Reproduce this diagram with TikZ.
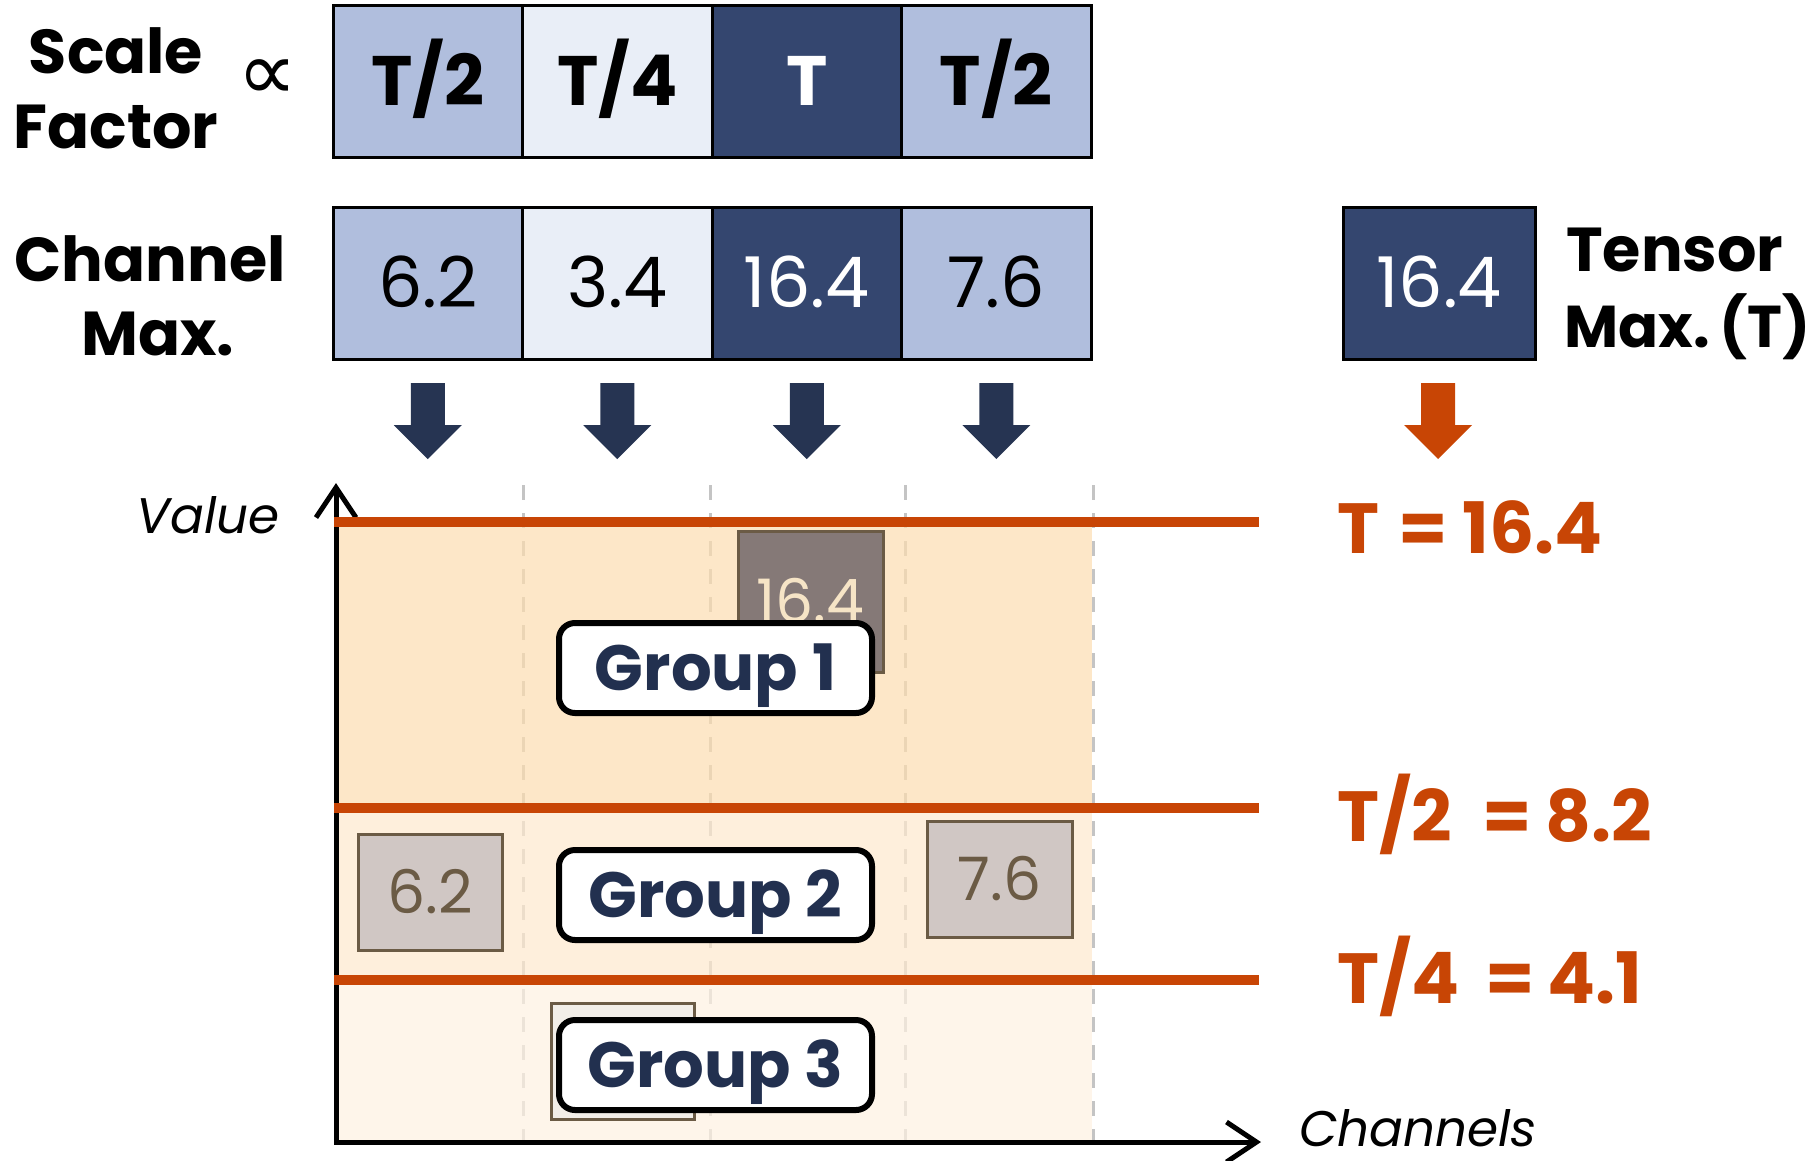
\documentclass[tikz,border=0pt]{standalone}
\usepackage{fontspec}
\setmainfont{Poppins}
\newfontfamily\symbolfont{DejaVu Sans}
\usetikzlibrary{arrows.meta}

\definecolor{cellLight}{HTML}{B0BEDD}
\definecolor{cellPale}{HTML}{E9EEF7}
\definecolor{cellDark}{HTML}{34466F}
\definecolor{arrowNavy}{HTML}{263452}
\definecolor{rust}{HTML}{C84505}
\definecolor{shadeTop}{RGB}{252,221,176}
\definecolor{shadeMid}{RGB}{254,232,205}
\definecolor{shadeLow}{RGB}{254,241,225}
\definecolor{gridGray}{HTML}{C4C4C4}
\definecolor{valEdge}{HTML}{6B5B45}
\definecolor{valDark}{HTML}{857977}
\definecolor{valMid}{HTML}{D0C7C4}
\definecolor{valPale}{HTML}{F2EEE8}
\definecolor{cream}{HTML}{F6E4C6}
\definecolor{groupInk}{HTML}{22304F}

\newcommand\fsz[1]{\fontsize{#1}{#1}\selectfont}
% block arrow pointing down, top centre at #1
\newcommand\downblock[2]{%
  \fill[#2] (#1) ++(-17,0) -- ++(34,0) -- ++(0,42) -- ++(17,0) -- ++(-34,34)
    -- ++(-34,-34) -- ++(17,0) -- cycle;}

\begin{document}
\begin{tikzpicture}[x=1pt,y=-1pt,
  cellbox/.style={draw=black, line width=3pt, minimum width=189.5pt,
    minimum height=152pt, inner sep=0pt, text height=48pt, text depth=0pt},
  factortxt/.style={font=\fsz{70}\bfseries},
  maxtxt/.style={font=\fsz{70}},
  sidelbl/.style={font=\fsz{62}\bfseries, inner sep=0pt},
  axislbl/.style={font=\fsz{50}\itshape, inner sep=0pt},
  threshlbl/.style={font=\fsz{71}\bfseries, text=rust, inner sep=0pt, anchor=base west},
  threshline/.style={draw=rust, line width=10pt},
  gridline/.style={draw=gridGray, line width=3pt, dash pattern=on 15pt off 13pt},
  valbox/.style={draw=valEdge, line width=3pt, inner sep=0pt, font=\fsz{60},
    text=valEdge, text height=42pt, text depth=0pt},
  grouplbl/.style={draw=black, fill=white, line width=6pt, rounded corners=16pt,
    minimum width=313pt, minimum height=90pt, inner sep=0pt,
    font=\fsz{64}\bfseries, text=groupInk, text height=45pt, text depth=0pt},
  axis/.style={line width=5pt, {Straight Barb[length=30pt,width=40pt]}-{Straight Barb[length=30pt,width=40pt]}}
]
\useasboundingbox (0,0) rectangle (1816,1160);

% ---- scale factor row ----
\node[cellbox, factortxt, fill=cellLight] (s1) at (427.75,81.5) {T/2};
\node[cellbox, factortxt, fill=cellPale]  (s2) at (617.25,81.5) {T/4};
\node[cellbox, factortxt, fill=cellDark, text=white] (s3) at (806.75,81.5) {T};
\node[cellbox, factortxt, fill=cellLight] (s4) at (996.25,81.5) {T/2};

% ---- channel max row ----
\node[cellbox, maxtxt, fill=cellLight] (c1) at (427.75,283) {6.2};
\node[cellbox, maxtxt, fill=cellPale]  (c2) at (617.25,283) {3.4};
\node[cellbox, maxtxt, fill=cellDark, text=white] (c3) at (806.75,283) {16.4};
\node[cellbox, maxtxt, fill=cellLight] (c4) at (996.25,283) {7.6};

% ---- tensor max ----
\node[cellbox, maxtxt, fill=cellDark, text=white, minimum width=192pt] (tm) at (1439,283.5) {16.4};

% ---- row labels ----
\node[sidelbl, anchor=base] (sf1) at (116,73) {Scale};
\node[sidelbl, anchor=base] (sf2) at (116,148) {Factor};
\node[inner sep=0pt, font=\fsz{84}\symbolfont] (prop) at (268,80) {∝};
\node[sidelbl, anchor=base] (cm1) at (150,281) {Channel};
\node[sidelbl, anchor=base] (cm2) at (158,355) {Max.};
\node[sidelbl, anchor=base west] (tl1) at (1566,271) {Tensor};
\node[sidelbl, anchor=base west, font=\fsz{59}\bfseries] (tl2) at (1564,347) {Max.\hspace{-7pt} (T)};

% ---- down arrows ----
\coordinate (a1) at (427.75,383);
\coordinate (a2) at (617.25,383);
\coordinate (a3) at (806.75,383);
\coordinate (a4) at (996.25,383);
\coordinate (a5) at (1438,383);
\downblock{a1}{arrowNavy}
\downblock{a2}{arrowNavy}
\downblock{a3}{arrowNavy}
\downblock{a4}{arrowNavy}
\downblock{a5}{rust}

% ---- channel separators ----
\foreach \gx in {523,710,905,1093}
  \draw[gridline] (\gx,485) -- (\gx,1140);

% ---- quantisation bands ----
\fill[shadeTop, fill opacity=0.7] (336,522) rectangle (1092,808);
\fill[shadeMid, fill opacity=0.7] (336,808) rectangle (1092,980);
\fill[shadeLow, fill opacity=0.7] (336,980) rectangle (1092,1142);

% ---- per-channel maxima ----
\node[valbox, fill=valDark, text=cream, minimum width=145pt, minimum height=141pt] (v3) at (810.5,601.5) {16.4};
\node[valbox, fill=valMid, minimum width=144pt, minimum height=116pt] (v1) at (430,892) {6.2};
\node[valbox, fill=valMid, minimum width=145pt, minimum height=116pt] (v4) at (999.5,879) {7.6};
\node[valbox, fill=valPale, minimum width=143pt, minimum height=116pt] (v2) at (622.5,1061) {};

% ---- axes ----
\coordinate (ytop) at (336,483);
\coordinate (origin) at (336,1142);
\coordinate (xend) at (1261,1142);
\draw[axis] (ytop) -- (origin) -- (xend);
\node[axislbl, anchor=base east] (vlab) at (280,533) {Value};
\node[axislbl, anchor=base west] (chlab) at (1299,1146) {Channels};

% ---- thresholds ----
\coordinate (t1a) at (334,522);  \coordinate (t1b) at (1259,522);
\coordinate (t2a) at (334,808);  \coordinate (t2b) at (1259,808);
\coordinate (t3a) at (334,980);  \coordinate (t3b) at (1259,980);
\draw[threshline] (t1a) -- (t1b);
\draw[threshline] (t2a) -- (t2b);
\draw[threshline] (t3a) -- (t3b);
\node[threshlbl] (th1) at (1337,553) {T\hspace{4pt} = 16.4};
\node[threshlbl] (th2) at (1337,841) {T/2\hspace{16pt} =\hspace{-2pt} 8.2};
\node[threshlbl] (th3) at (1337,1003) {T/4\hspace{11pt} =\hspace{-2pt} 4.1};

% ---- group labels ----
\node[grouplbl] (g1) at (715.5,668) {Group 1};
\node[grouplbl] (g2) at (715.5,895) {Group 2};
\node[grouplbl] (g3) at (715.5,1065) {Group 3};
\end{tikzpicture}
\end{document}
